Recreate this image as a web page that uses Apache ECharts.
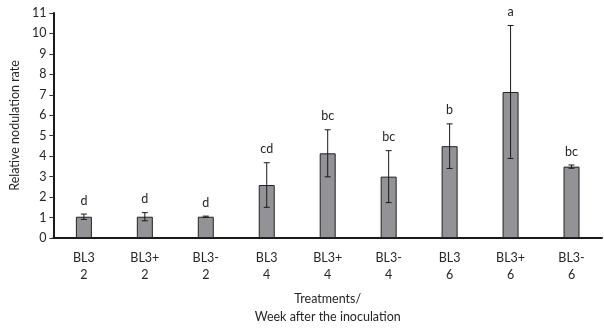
<!DOCTYPE html>
<html><head><meta charset="utf-8">
<script src="https://cdn.jsdelivr.net/npm/echarts@6/dist/echarts.min.js"></script>
<style>html,body{margin:0;padding:0;background:#fff}#c{width:604px;height:331px}</style>
</head><body><div id="c"></div>
<script>
const categories = ['BL3\n2','BL3+\n2','BL3-\n2','BL3\n4','BL3+\n4','BL3-\n4','BL3\n6','BL3+\n6','BL3-\n6'];
const means = [1.04, 1.04, 1.04, 2.59, 4.14, 3.0, 4.49, 7.14, 3.49];
const errors = [0.13, 0.2, 0.03, 1.09, 1.15, 1.27, 1.09, 3.25, 0.08];
const letters = ['d','d','d','cd','bc','bc','b','a','bc'];
const yTicks = [0,1,2,3,4,5,6,7,8,9,10,11];

const FONT = 'Lato, "Liberation Sans", sans-serif';
const TXT = '#262626';
const chart = echarts.init(document.getElementById('c'), null, {renderer:'canvas'});
chart.setOption({
  animation:false,
  grid:{left:53, right:2, top:13, bottom:87, containLabel:false},
  xAxis:{
    type:'category', data:categories,
    axisLine:{lineStyle:{color:'#1a1a1a', width:2}},
    axisTick:{show:false},
    axisLabel:{color:TXT, fontSize:12.5, fontFamily:FONT, lineHeight:17, margin:11, interval:0},
    name:'Treatments/\nWeek after the inoculation', nameLocation:'middle', nameGap:52,
    nameTextStyle:{color:TXT, fontSize:12.5, fontFamily:FONT, lineHeight:18}
  },
  yAxis:{
    type:'value', min:yTicks[0], max:yTicks[yTicks.length-1], interval:1,
    splitLine:{show:false},
    axisLine:{show:true, lineStyle:{color:'#1a1a1a', width:2}},
    axisTick:{show:true, length:4, lineStyle:{color:'#333'}},
    axisLabel:{color:TXT, fontSize:12.5, fontFamily:FONT, margin:7},
    name:'Relative nodulation rate', nameLocation:'middle', nameGap:30,
    nameTextStyle:{color:TXT, fontSize:12.5, fontFamily:FONT}
  },
  series:[
    {type:'bar', data:means, barWidth:16,
     itemStyle:{color:'#939397', borderColor:'#222', borderWidth:1}},
    {type:'custom', data:means.map((m,i)=>[i,m,errors[i],letters[i]]),
     z:5,
     renderItem:function(params, api){
       const i = api.value(0), m = api.value(1), e = api.value(2);
       const top = api.coord([i, m+e]);
       const bot = api.coord([i, m-e]);
       const x = top[0], hw = 3;
       return {type:'group', children:[
         {type:'line', shape:{x1:x,y1:top[1],x2:x,y2:bot[1]}, style:{stroke:'#1a1a1a', lineWidth:1}},
         {type:'line', shape:{x1:x-hw,y1:top[1],x2:x+hw,y2:top[1]}, style:{stroke:'#1a1a1a', lineWidth:1}},
         {type:'line', shape:{x1:x-hw,y1:bot[1],x2:x+hw,y2:bot[1]}, style:{stroke:'#1a1a1a', lineWidth:1}},
         {type:'text', style:{text:letters[i], x:x, y:top[1]-7, align:'center', verticalAlign:'bottom',
           fill:TXT, font:'12.5px '+FONT}}
       ]};
     }}
  ]
});
</script></body></html>
